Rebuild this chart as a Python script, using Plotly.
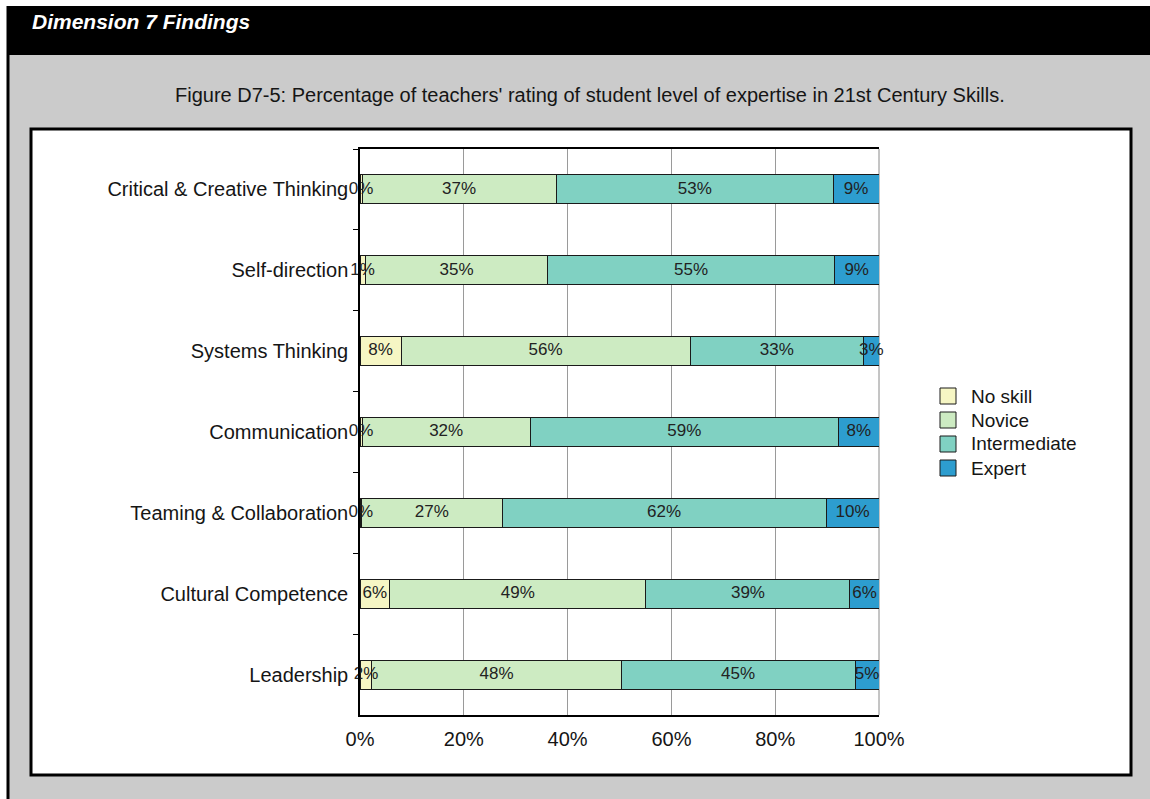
import plotly.graph_objects as go

# Rating shares per skill (percent of teachers)
skills = [
    "Critical & Creative Thinking",
    "Self-direction",
    "Systems Thinking",
    "Communication",
    "Teaming & Collaboration",
    "Cultural Competence",
    "Leadership",
]
no_skill = [0.4, 1.0, 7.9, 0.4, 0.3, 5.7, 2.3]
novice = [37.4, 35.2, 55.7, 32.4, 27.1, 49.4, 48.0]
intermediate = [53.4, 55.2, 33.4, 59.4, 62.4, 39.3, 45.1]
expert = [8.8, 8.6, 3.0, 7.8, 10.2, 5.6, 4.6]

level_names = ["No skill", "Novice", "Intermediate", "Expert"]
level_colors = ["#f6f6c4", "#cdebc2", "#80d1c2", "#2d9dcf"]
x_ticks = [0, 20, 40, 60, 80, 100]

FONT = "Arial, Liberation Sans, sans-serif"
TEXT = "#151515"
W, H = 1150, 799
L, R, T, B = 360, 879, 149, 715  # plot area in pixels


def fx(px):
    return (px - L) / (R - L)


def fy(py):
    return (B - py) / (B - T)


fig = go.Figure()
levels = [no_skill, novice, intermediate, expert]
base = [0.0] * len(skills)
for name, vals, color in zip(level_names, levels, level_colors):
    fig.add_trace(go.Bar(
        y=skills,
        x=vals,
        name=name,
        orientation="h",
        marker=dict(color=color, line=dict(color="#1a1a1a", width=1)),
        showlegend=False,
        hoverinfo="skip",
    ))
    # value labels centred on each stacked segment
    mids = [b + v / 2 for b, v in zip(base, vals)]
    fig.add_trace(go.Scatter(
        x=mids,
        y=skills,
        mode="text",
        text=[f"{v:.0f}%" for v in vals],
        textposition="middle center",
        textfont=dict(family=FONT, size=17, color="#222222"),
        cliponaxis=False,
        showlegend=False,
        hoverinfo="skip",
    ))
    base = [b + v for b, v in zip(base, vals)]

shapes = [
    # grey page background
    dict(type="rect", xref="paper", yref="paper", x0=fx(9), x1=fx(1150),
         y0=fy(799), y1=fy(55), fillcolor="#cbcbcb", line=dict(width=0), layer="below"),
    # black heading band
    dict(type="rect", xref="paper", yref="paper", x0=fx(7), x1=fx(1150),
         y0=fy(55), y1=fy(6), fillcolor="#000000", line=dict(width=0), layer="below"),
    # left rule
    dict(type="rect", xref="paper", yref="paper", x0=fx(6.5), x1=fx(9.5),
         y0=fy(799), y1=fy(6), fillcolor="#000000", line=dict(width=0), layer="below"),
    # white chart panel
    dict(type="rect", xref="paper", yref="paper", x0=fx(31), x1=fx(1131),
         y0=fy(775), y1=fy(129), fillcolor="#ffffff",
         line=dict(color="#000000", width=3), layer="below"),
    # right edge of the plot frame
    dict(type="line", xref="paper", yref="paper", x0=1, x1=1, y0=0, y1=1,
         line=dict(color="#8a8a8a", width=1), layer="below"),
]

annotations = [
    dict(text="Dimension 7 Findings", xref="paper", yref="paper", x=fx(30), y=fy(22),
         xanchor="left", yanchor="middle", showarrow=False,
         font=dict(family=FONT, size=21, color="#ffffff", weight="bold", style="italic")),
    dict(text="Figure D7-5: Percentage of teachers' rating of student level of expertise in 21st Century Skills.",
         xref="paper", yref="paper", x=fx(590), y=fy(95), xanchor="center", yanchor="middle",
         showarrow=False, font=dict(family=FONT, size=20, color=TEXT)),
]

# legend: swatch + label per rating level
for i, (name, color) in enumerate(zip(level_names, level_colors)):
    cy = 396 + 24 * i
    shapes.append(dict(type="rect", xref="paper", yref="paper",
                       x0=fx(940), x1=fx(956), y0=fy(cy + 8), y1=fy(cy - 8),
                       fillcolor=color, line=dict(color="#1a1a1a", width=1)))
    annotations.append(dict(text=name, xref="paper", yref="paper", x=fx(969), y=fy(cy),
                            xanchor="left", yanchor="middle", showarrow=False,
                            font=dict(family=FONT, size=19, color=TEXT)))

fig.update_layout(
    width=W,
    height=H,
    margin=dict(l=L, r=W - R, t=T, b=H - B, pad=0),
    paper_bgcolor="#ffffff",
    plot_bgcolor="#ffffff",
    barmode="stack",
    bargap=0.64,
    showlegend=False,
    font=dict(family=FONT, color=TEXT),
    shapes=shapes,
    annotations=annotations,
    xaxis=dict(
        range=[0, 100],
        tickvals=x_ticks,
        ticktext=[f"{v}%" for v in x_ticks],
        showgrid=True,
        gridcolor="#9a9a9a",
        gridwidth=1,
        showline=True,
        linecolor="#000000",
        linewidth=1.5,
        mirror=True,
        ticks="",
        ticklabelstandoff=5,
        tickfont=dict(family=FONT, size=20, color=TEXT),
        zeroline=False,
        fixedrange=True,
    ),
    yaxis=dict(
        categoryorder="array",
        categoryarray=skills,
        autorange="reversed",
        showgrid=False,
        showline=True,
        linecolor="#000000",
        linewidth=1.5,
        ticks="outside",
        tickson="boundaries",
        ticklen=5,
        tickcolor="#000000",
        ticklabelstandoff=6,
        tickfont=dict(family=FONT, size=20, color=TEXT),
        zeroline=False,
        fixedrange=True,
    ),
)

fig.write_html("out.html", config={"displayModeBar": False})
